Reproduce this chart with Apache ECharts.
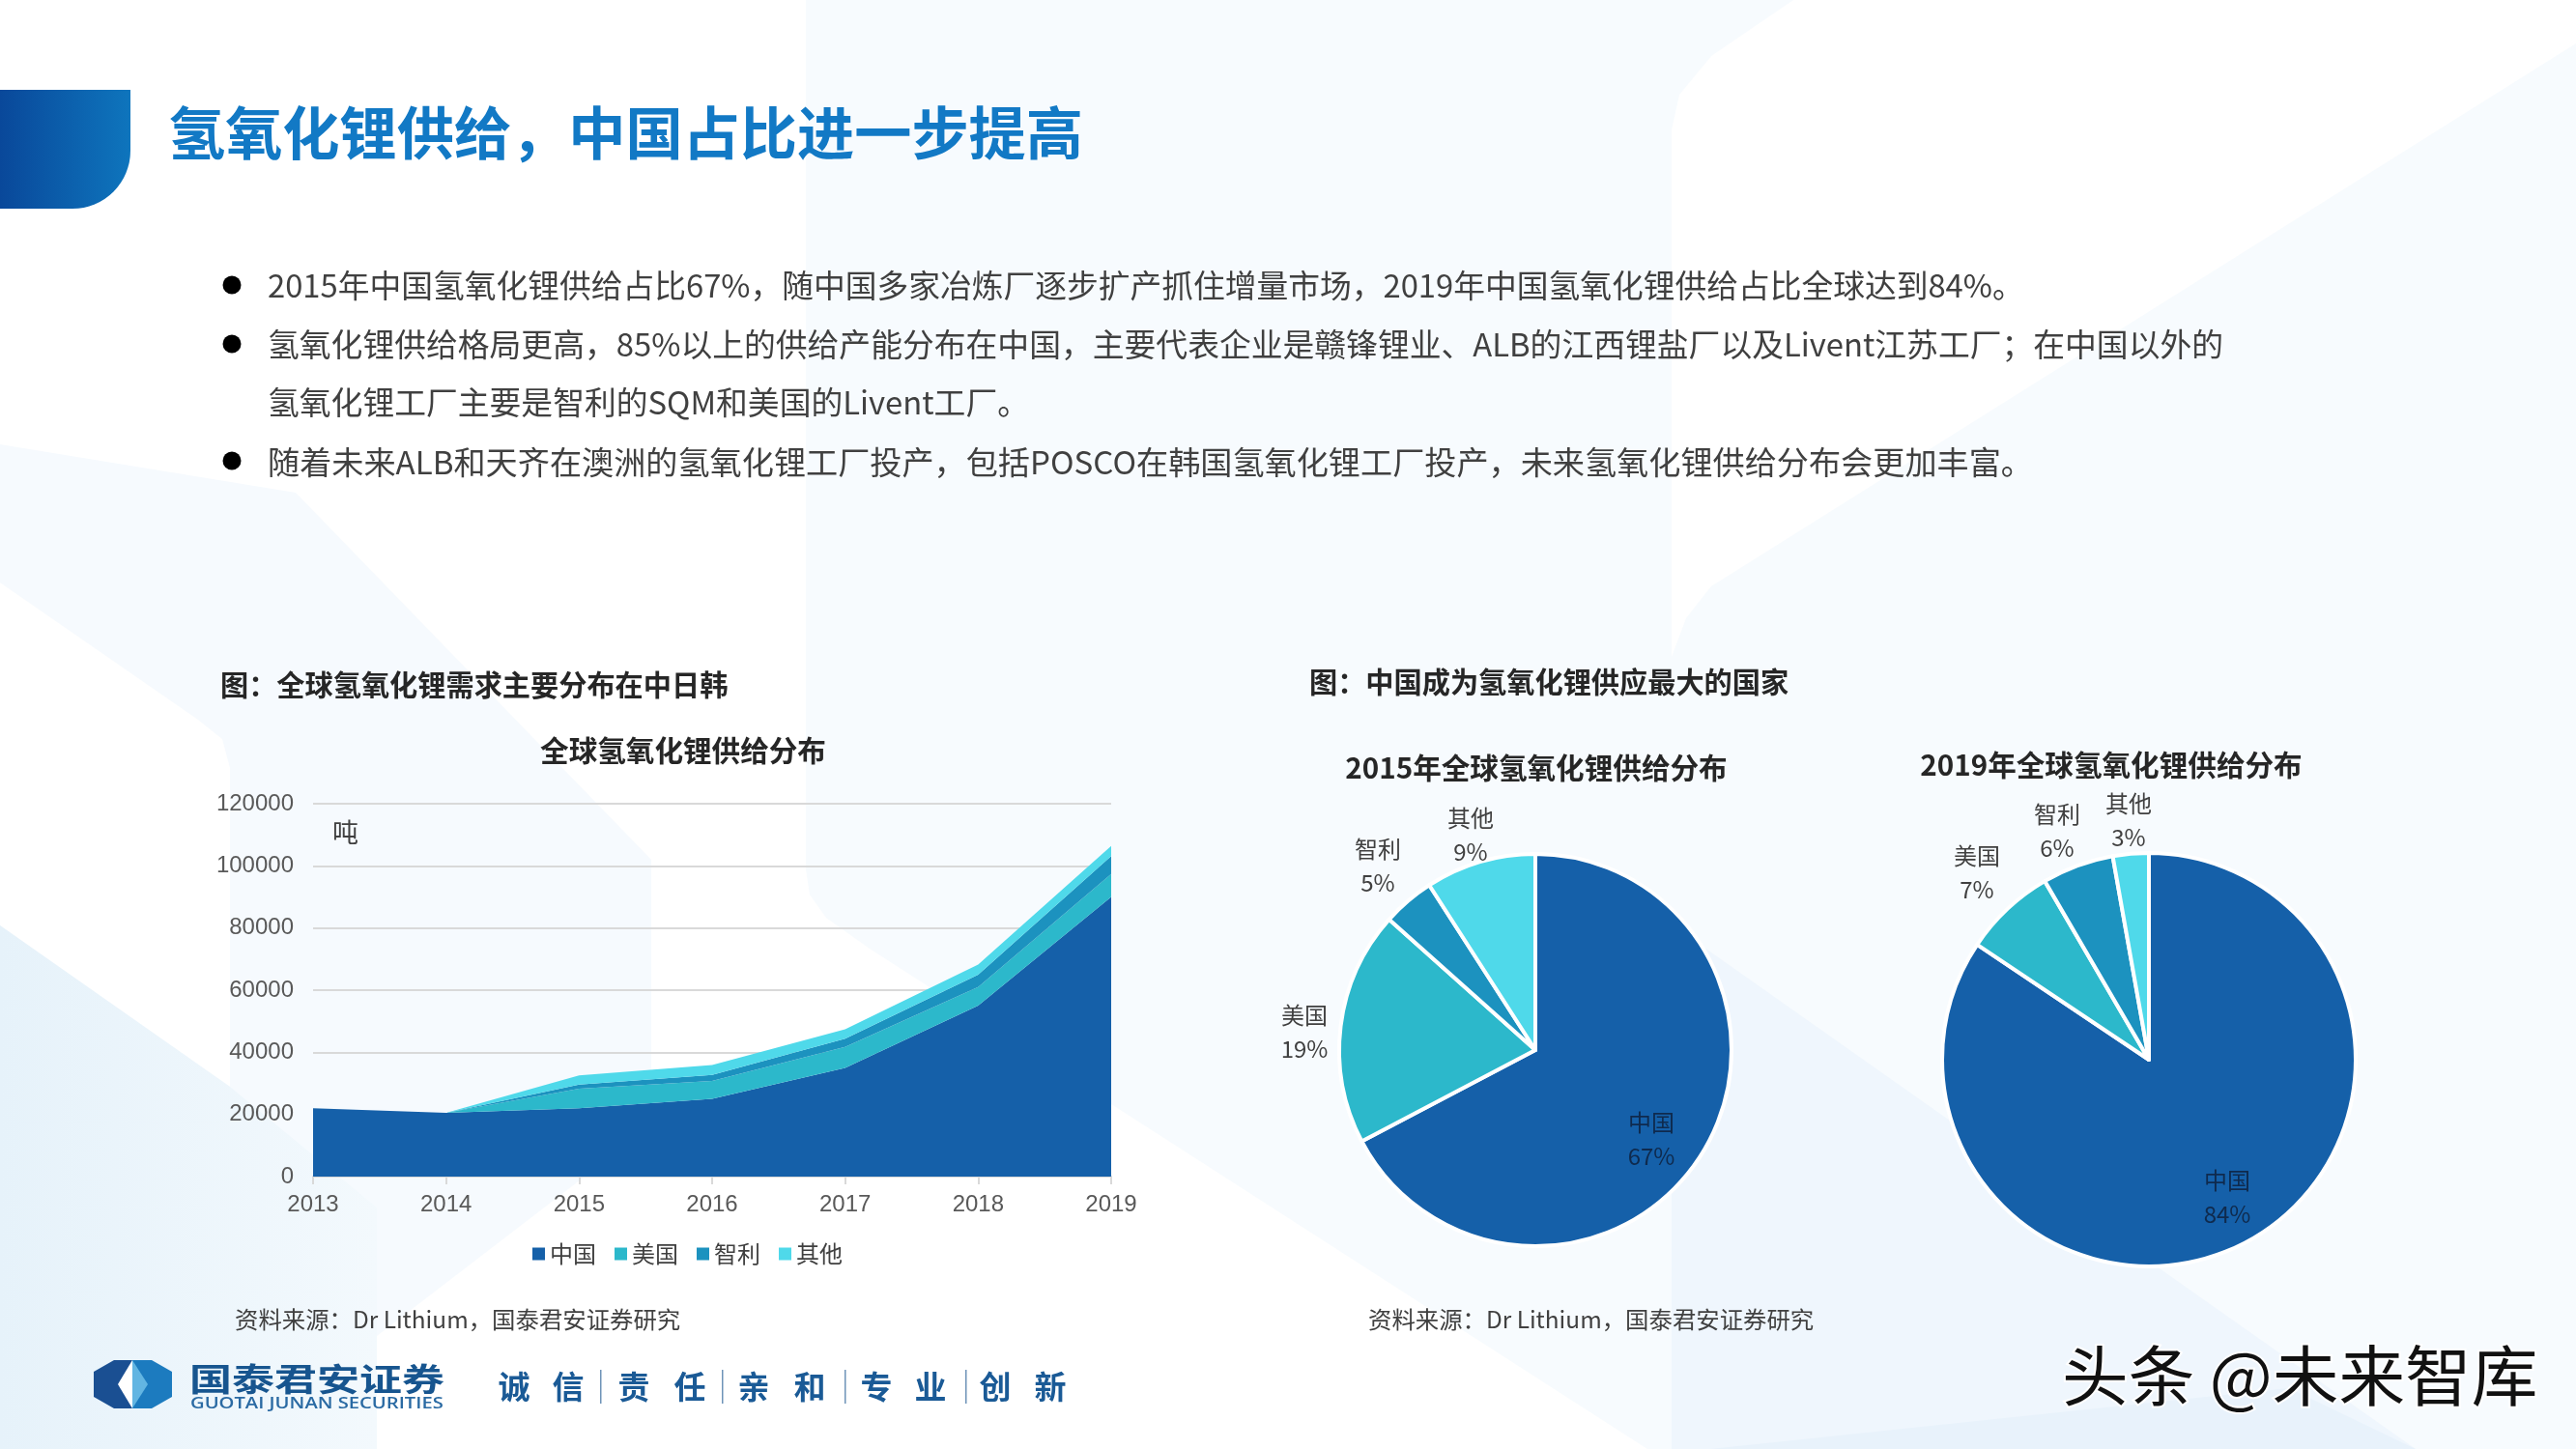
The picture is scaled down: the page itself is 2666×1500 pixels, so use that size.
<!DOCTYPE html>
<html>
<head>
<meta charset="utf-8">
<title>氢氧化锂供给</title>
<style>
html,body{margin:0;padding:0;background:#fff;}
#main{width:2666px;height:1500px;}
</style>
<script src="https://cdn.jsdelivr.net/npm/echarts@6/dist/echarts.min.js"></script>
</head>
<body>
<div id="main"></div>
<script>
// 全球氢氧化锂供给分布 (吨)
var years = ['2013', '2014', '2015', '2016', '2017', '2018', '2019'];
var china = [22000, 20500, 22000, 25000, 35000, 55000, 90000];
var usa = [0, 0, 6300, 5800, 6700, 6000, 7400];
var chile = [0, 0, 1300, 1900, 2700, 4000, 5700];
var other = [0, 0, 3000, 3200, 3000, 3200, 3300];

// 饼图
var pieNames = ['中国', '美国', '智利', '其他'];
var pie2015 = [67.3, 19.3, 4.3, 9.1];
var pie2019 = [84.4, 7.2, 5.6, 2.8];
var pct2015 = ['67%', '19%', '5%', '9%'];
var pct2019 = ['84%', '7%', '6%', '3%'];

var bullets = [
	'2015年中国氢氧化锂供给占比67%，随中国多家冶炼厂逐步扩产抓住增量市场，2019年中国氢氧化锂供给占比全球达到84%。',
	'氢氧化锂供给格局更高，85%以上的供给产能分布在中国，主要代表企业是赣锋锂业、ALB的江西锂盐厂以及Livent江苏工厂；在中国以外的',
	'氢氧化锂工厂主要是智利的SQM和美国的Livent工厂。',
	'随着未来ALB和天齐在澳洲的氢氧化锂工厂投产，包括POSCO在韩国氢氧化锂工厂投产，未来氢氧化锂供给分布会更加丰富。'
];
var slogan = ['诚', '信', '责', '任', '亲', '和', '专', '业', '创', '新'];

var colors = ['#1560a9', '#2cb8cb', '#1c92bf', '#4fd9ea'];
var cjk = '"Noto Sans CJK SC", sans-serif';
var latin = '"Liberation Sans", "Noto Sans CJK SC", sans-serif';

function text(str, x, y, size, color, weight, align) {
	return {
		type: 'text', x: x, y: y, z: 5, silent: true,
		style: {
			text: str, fill: color, font: (weight || 'normal') + ' ' + size + 'px ' + cjk,
			textAlign: align || 'left', textVerticalAlign: 'middle'
		}
	};
}
function poly(points, fill) {
	return { type: 'polygon', z: 0, silent: true, shape: { points: points }, style: { fill: fill } };
}

var graphics = [];
// 背景
graphics.push({ type: 'rect', z: -1, silent: true, shape: { x: 0, y: 0, width: 2666, height: 1500 }, style: { fill: '#ffffff' } });
// 左侧
graphics.push(poly([[0, 460], [306, 510], [674, 890], [674, 1165], [390, 1383], [390, 1500], [0, 1500]], '#f6fafe'));
graphics.push(poly([[0, 603], [205, 745], [230, 765], [238, 795], [238, 1125], [0, 958]], '#ffffff'));
graphics.push(poly([[0, 958], [238, 1125], [390, 1250], [390, 1500], [0, 1500]], {
	type: 'linear', x: 0, y: 0, x2: 1, y2: 0, colorStops: [
		{ offset: 0, color: '#e6f2fa' }, { offset: 1, color: '#f3f9fd' }
	]
}));
// 中间
graphics.push(poly([[834, 0], [1856, 0], [1771, 58], [1738, 98], [1730, 134], [1730, 1500], [1705, 1500], [900, 982], [855, 950], [838, 926], [834, 900]], '#f7fbfe'));
// 右侧
graphics.push(poly([[1730, 680], [1745, 640], [1771, 607], [2666, 45], [2666, 1500], [1730, 1500]], '#f7fbfe'));
graphics.push(poly([[1730, 957], [2500, 1500], [1730, 1500]], '#eff6fd'));
graphics.push(poly([[1770, 1500], [2369, 1437], [2500, 1500]], '#e8f2fb'));

// 标题栏
graphics.push({
	type: 'rect', z: 5, silent: true,
	shape: { x: 0, y: 93, width: 135, height: 123, r: [0, 0, 60, 0] },
	style: { fill: { type: 'linear', x: 0, y: 0, x2: 1, y2: 0, colorStops: [
		{ offset: 0, color: '#09489a' }, { offset: 1, color: '#0e75bd' }
	] } }
});
graphics.push(text('氢氧化锂供给，中国占比进一步提高', 174, 138, 59.2, '#1279c5', 'bold'));

// 要点
[[240, 295], [240, 356], [240, 477]].forEach(function (p) {
	graphics.push({ type: 'circle', z: 5, silent: true, shape: { cx: p[0], cy: p[1], r: 9.5 }, style: { fill: '#000' } });
});
[[296, 32.75], [357, 32.8], [417, 32.8], [478, 33.15]].forEach(function (l, i) {
	graphics.push(text(bullets[i], 277, l[0], l[1], '#404040'));
});

graphics.push(text('图：全球氢氧化锂需求主要分布在中日韩', 228, 709, 29.2, '#262626', 'bold'));
graphics.push(text('图：中国成为氢氧化锂供应最大的国家', 1355, 706, 29.2, '#262626', 'bold'));
graphics.push(text('吨', 344, 862, 27, '#404040'));
graphics.push(text('资料来源：Dr Lithium，国泰君安证券研究', 243, 1366, 24.4, '#404040'));
graphics.push(text('资料来源：Dr Lithium，国泰君安证券研究', 1416, 1366, 24.4, '#404040'));

// 标识
graphics.push(poly([[118, 1408], [137, 1408], [137, 1458], [118, 1458], [97, 1446], [97, 1420]], '#1a4f92'));
graphics.push(poly([[137, 1408], [157, 1408], [178, 1420], [178, 1446], [157, 1458], [137, 1458]], '#1c7bbf'));
graphics.push(poly([[122, 1433], [137, 1408], [137, 1458]], '#ffffff'));
graphics.push(poly([[137, 1408], [153, 1433], [137, 1458]], '#62b5e2'));
var logoName = text('国泰君安证券', 196, 1427, 44, '#17558f', 'bold');
logoName.scaleY = 0.76;
graphics.push(logoName);
graphics.push({
	type: 'text', x: 197, y: 1453, z: 5, silent: true, scaleX: 1.26,
	style: { text: 'GUOTAI JUNAN SECURITIES', fill: '#2a6aa3', font: '600 16px "Open Sans", sans-serif', textVerticalAlign: 'middle' }
});

// 标语
[532, 588, 656, 714, 780, 838, 907, 963, 1030, 1087].forEach(function (x, i) {
	graphics.push(text(slogan[i], x, 1435, 33, '#1a5a96', 'bold', 'center'));
});
[621, 747, 874, 999].forEach(function (x) {
	graphics.push({ type: 'rect', z: 5, silent: true, shape: { x: x, y: 1418, width: 1.5, height: 35 }, style: { fill: '#6e93b8' } });
});

// 水印
graphics.push({
	type: 'text', x: 2134, y: 1424, z: 6, silent: true, scaleX: 1.01,
	style: {
		text: '头条 @未来智库', fill: '#111', font: 'normal 68px ' + cjk,
		stroke: '#fff', lineWidth: 4, textVerticalAlign: 'middle'
	}
});

function pieSeries(name, values, pcts, center, radius, spots) {
	return {
		name: name,
		type: 'pie',
		center: center,
		radius: [0, radius],
		startAngle: 90,
		clockwise: true,
		avoidLabelOverlap: false,
		itemStyle: { borderColor: '#fff', borderWidth: 4 },
		label: {
			show: true,
			color: '#404040',
			fontFamily: cjk,
			fontSize: 24,
			lineHeight: 35,
			align: 'center',
			formatter: function (p) { return p.name + '\n' + pcts[p.dataIndex]; }
		},
		labelLine: { show: false },
		labelLayout: function (p) {
			return { x: spots[p.dataIndex][0], y: spots[p.dataIndex][1], align: 'center', verticalAlign: 'middle' };
		},
		data: values.map(function (v, i) {
			return {
				name: pieNames[i],
				value: v,
				itemStyle: { color: colors[i] },
				label: { color: i == 0 ? '#0f2a4d' : '#404040' }
			};
		})
	};
}

function areaSeries(name, values, color) {
	return {
		name: name,
		type: 'line',
		stack: 'supply',
		data: values,
		symbol: 'none',
		lineStyle: { width: 0 },
		itemStyle: { color: color },
		areaStyle: { color: color, opacity: 1 }
	};
}

var titleStyle = { fontFamily: cjk, fontSize: 29.6, fontWeight: 'bold', color: '#262626' };
var chart = echarts.init(document.getElementById('main'));
var option = {
	animation: false,
	backgroundColor: 'transparent',
	title: [
		{ text: '全球氢氧化锂供给分布', left: 702, top: 757, textAlign: 'center', textStyle: titleStyle },
		{ text: '2015年全球氢氧化锂供给分布', left: 1585, top: 775, textAlign: 'center', textStyle: titleStyle },
		{ text: '2019年全球氢氧化锂供给分布', left: 2180, top: 772, textAlign: 'center', textStyle: titleStyle }
	],
	legend: {
		data: pieNames,
		left: 546,
		top: 1281,
		icon: 'rect',
		itemWidth: 13,
		itemHeight: 13,
		itemGap: 19,
		textStyle: { fontFamily: cjk, fontSize: 24, color: '#404040' }
	},
	grid: { left: 324, top: 832, width: 826, height: 386 },
	xAxis: {
		type: 'category',
		data: years,
		boundaryGap: false,
		axisLine: { lineStyle: { color: '#d9d9d9', width: 2 } },
		axisTick: { show: true, length: 8, lineStyle: { color: '#d9d9d9', width: 2 } },
		axisLabel: { fontFamily: latin, fontSize: 24, color: '#595959', margin: 17 }
	},
	yAxis: {
		type: 'value',
		min: 0,
		max: 120000,
		interval: 20000,
		axisLine: { show: false },
		axisTick: { show: false },
		splitLine: { lineStyle: { color: '#d9d9d9', width: 2 } },
		axisLabel: {
			fontFamily: latin, fontSize: 24, color: '#595959', margin: 20, padding: [3, 0, 0, 0],
			formatter: function (v) { return String(v); }
		}
	},
	series: [
		areaSeries('中国', china, colors[0]),
		areaSeries('美国', usa, colors[1]),
		areaSeries('智利', chile, colors[2]),
		areaSeries('其他', other, colors[3]),
		pieSeries('2015', pie2015, pct2015, [1589, 1087], 203,
			[[1709, 1179], [1350, 1068], [1426, 896], [1522, 864]]),
		pieSeries('2019', pie2019, pct2019, [2224, 1097], 214,
			[[2305, 1239], [2046, 903], [2129, 860], [2203, 849]])
	],
	graphic: { elements: graphics }
};
chart.setOption(option);
window.onresize = function () {
	chart.resize();
};
</script>
</body>
</html>
